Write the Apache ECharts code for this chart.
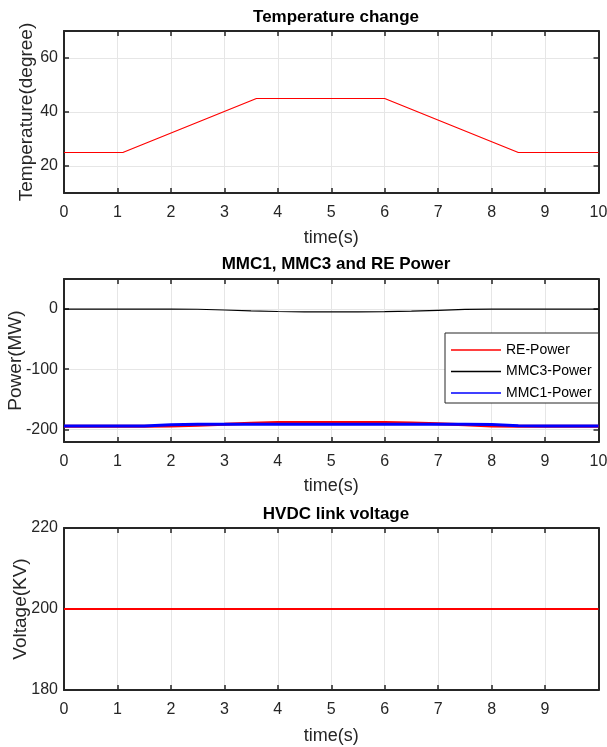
<!DOCTYPE html>
<html><head><meta charset="utf-8">
<script src="https://cdn.jsdelivr.net/npm/echarts@6/dist/echarts.min.js"></script>
<style>html,body{margin:0;padding:0;background:#fff}#c{width:607px;height:747px}</style>
</head><body><div id="c"></div>
<script>
// ---- Data ----
const tempTime = [0, 1.1, 3.6, 6, 8.5, 10];
const tempValue = [25, 25, 45, 45, 25, 25];

const powerTime = [0, 0.5, 1, 1.5, 2, 2.5, 3, 3.5, 4, 4.5, 5, 5.5, 6, 6.5, 7, 7.5, 8, 8.5, 9, 9.5, 10];
const rePower   = [-195, -195, -195, -195, -194.5, -193, -191.5, -189.8, -188.5, -188.5, -188.5, -188.5, -188.5, -189.3, -190.8, -192.5, -194.2, -195, -195, -195, -195];
const mmc3Power = [0, 0, 0, 0, 0, -0.3, -1.5, -3, -4, -4.5, -4.5, -4.5, -4.3, -3.5, -2, -0.5, 0, 0, 0, 0, 0];
const mmc1Power = [-194.5, -194.5, -194.5, -194.2, -192.5, -191.5, -191.5, -191.5, -191.5, -191.5, -191.5, -191.5, -191.5, -191.5, -191.5, -191.5, -192, -194, -194.5, -194.5, -194.5];

const vdcTime = [0, 2, 4, 6, 8, 10];
const vdcValue = [200, 200, 200, 200, 200, 200];

const titles = ['Temperature change', 'MMC1, MMC3 and RE Power', 'HVDC link voltage'];
const yNames = ['Temperature(degree)', 'Power(MW)', 'Voltage(KV)'];
const xName = 'time(s)';
const legendNames = ['RE-Power', 'MMC3-Power', 'MMC1-Power'];

// ---- Chart ----
const AX = '#262626';
const GRID = '#e6e6e6';
const FONT = 'Liberation Sans, Arial, sans-serif';
const pair = (t, v) => t.map((x, i) => [x, v[i]]);

const grids = [
  {left: 64, right: 8.5, top: 31, height: 162, outerBoundsMode: 'none', containLabel: false},
  {left: 64, right: 8.5, top: 279, height: 163, outerBoundsMode: 'none', containLabel: false},
  {left: 64, right: 8.5, top: 528, height: 162, outerBoundsMode: 'none', containLabel: false}
];
const yRanges = [
  {min: 10, max: 70, splitNumber: 3},
  {min: -221, max: 50, splitNumber: 3},
  {min: 180, max: 220, interval: 20}
];
const hideEnds = [true, true, false];
const xNameGaps = [36, 35, 37];
const yNameGaps = [28, 39, 34];
const titleTops = [4, 251, 501];

const xAxis = [], yAxis = [];
grids.forEach((g, i) => {
  xAxis.push({
    type: 'value', gridIndex: i, min: 0, max: 10, interval: 1,
    name: xName, nameLocation: 'middle', nameGap: xNameGaps[i], nameMoveOverlap: false,
    nameTextStyle: {color: AX, fontSize: 18, fontFamily: FONT},
    axisLine: {show: true, onZero: false, lineStyle: {color: AX, width: 2}},
    axisTick: {show: true, inside: true, length: 5, lineStyle: {color: AX, width: 1.5}},
    axisLabel: {color: AX, fontSize: 16, fontFamily: FONT, margin: 12, showMaxLabel: i !== 2},
    splitLine: {show: true, lineStyle: {color: GRID, width: 1}}
  });
  xAxis.push({
    type: 'value', gridIndex: i, min: 0, max: 10, interval: 1, position: 'top',
    axisLine: {show: true, onZero: false, lineStyle: {color: AX, width: 2}},
    axisTick: {show: true, inside: true, length: 5, lineStyle: {color: AX, width: 1.5}},
    axisLabel: {show: false}, splitLine: {show: false}
  });
  const yr = yRanges[i];
  yAxis.push(Object.assign({
    type: 'value', gridIndex: i,
    name: yNames[i], nameLocation: 'middle', nameGap: yNameGaps[i], nameRotate: 90,
    nameMoveOverlap: false,
    nameTextStyle: {color: AX, fontSize: 19, fontFamily: FONT},
    axisLine: {show: true, onZero: false, lineStyle: {color: AX, width: 2}},
    axisTick: {show: true, inside: true, length: 5, lineStyle: {color: AX, width: 1.5}},
    axisLabel: {color: AX, fontSize: 16, fontFamily: FONT, margin: 6,
      showMinLabel: !hideEnds[i], showMaxLabel: !hideEnds[i]},
    splitLine: {show: i !== 2, lineStyle: {color: GRID, width: 1}}
  }, yr));
  yAxis.push(Object.assign({
    type: 'value', gridIndex: i, position: 'right',
    axisLine: {show: true, onZero: false, lineStyle: {color: AX, width: 2}},
    axisTick: {show: true, inside: true, length: 5, lineStyle: {color: AX, width: 1.5}},
    axisLabel: {show: false}, splitLine: {show: false}
  }, yr));
});

const line = (name, xi, data, color, width, z) => ({
  name, type: 'line', xAxisIndex: xi * 2, yAxisIndex: xi * 2, data,
  symbol: 'none', smooth: false, animation: false, z: z || 2,
  lineStyle: {color, width}, itemStyle: {color}
});

const chart = echarts.init(document.getElementById('c'), null, {renderer: 'canvas'});
chart.setOption({
  animation: false,
  backgroundColor: '#fff',
  title: titles.map((t, i) => ({
    text: t, left: 331, top: titleTops[i], textAlign: 'center',
    textStyle: {fontSize: 17, fontWeight: 'bold', color: '#000', fontFamily: FONT}
  })),
  legend: {
    data: legendNames.map(n => ({name: n, icon: 'rect'})),
    orient: 'vertical', left: 445, top: 333,
    itemWidth: 50, itemHeight: 1.5, itemGap: 7.5,
    backgroundColor: '#fff', borderColor: AX, borderWidth: 1, borderRadius: 0,
    padding: [10, 7, 3, 6],
    textStyle: {color: '#000', fontSize: 14, fontFamily: FONT}
  },
  grid: grids,
  xAxis, yAxis,
  series: [
    line('Temperature', 0, pair(tempTime, tempValue), '#ff0000', 1.2),
    line('RE-Power', 1, pair(powerTime, rePower), '#ff0000', 3, 2),
    line('MMC3-Power', 1, pair(powerTime, mmc3Power), '#000000', 1.2, 3),
    line('MMC1-Power', 1, pair(powerTime, mmc1Power), '#0000ff', 3, 4),
    line('Vdc', 2, pair(vdcTime, vdcValue), '#ff0000', 2)
  ]
});
</script></body></html>
